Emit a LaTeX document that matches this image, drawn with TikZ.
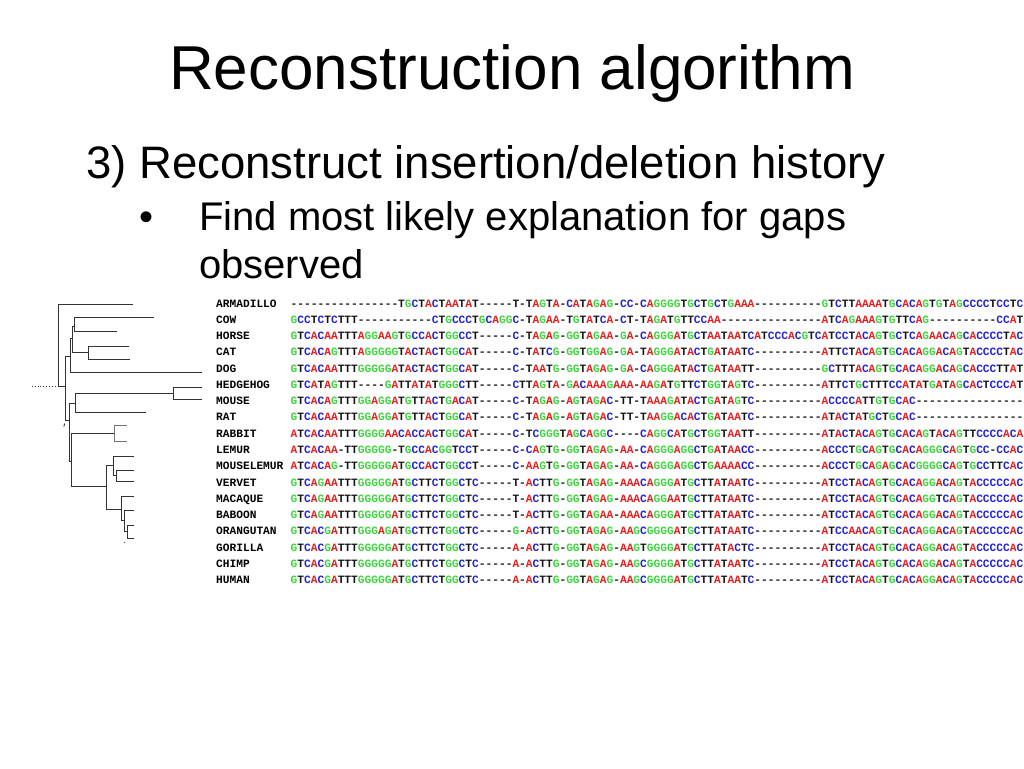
\documentclass[tikz,border=0pt]{standalone}
\usepackage{fontspec}
\setmainfont{Liberation Sans}
\newfontfamily\seqfont{Liberation Mono}
\usepackage{tikz}

\newcommand\nuc[1]{\if#1A\textcolor{nucA}{A}\else\if#1C\textcolor{nucC}{C}\else\if#1G\textcolor{nucG}{G}\else\textcolor{nucT}{#1}\fi\fi\fi}
\newcommand\colseq[1]{\colseqstep#1\relax}
\newcommand\colseqstep[1]{\ifx#1\relax\else\nuc{#1}\expandafter\colseqstep\fi}

\begin{document}
\begin{tikzpicture}[x=1pt,y=-1pt,
  branch/.style={draw=black!80,line width=0.9pt},
  taxon/.style={anchor=base west,inner sep=0pt,font=\seqfont\bfseries\fontsize{11.2}{11.2}\selectfont}]
\definecolor{nucA}{RGB}{230,30,30}
\definecolor{nucC}{RGB}{35,35,215}
\definecolor{nucG}{RGB}{60,215,60}
\definecolor{nucT}{RGB}{20,20,20}
\fill[white] (0,0) rectangle (1024,768);
\useasboundingbox (0,0) rectangle (1024,768);
\node[anchor=base,inner sep=0pt,font=\fontsize{62}{62}\selectfont] (title) at (512,89) {Reconstruction algorithm};
\node[anchor=base west,inner sep=0pt,font=\fontsize{45.5}{45.5}\selectfont] (heading) at (86,178) {3) Reconstruct insertion/deletion history};
\node[anchor=base,inner sep=0pt,font=\fontsize{40}{40}\selectfont] (bullet) at (146,230) {•};
\node[anchor=base west,inner sep=0pt,font=\fontsize{40}{40}\selectfont] (find) at (199,230) {Find most likely explanation for gaps};
\node[anchor=base west,inner sep=0pt,font=\fontsize{40}{40}\selectfont] (observed) at (199,278) {observed};
\draw[branch,dotted] (31.7,386.7) -- (58.3,386.7);
\draw[branch] (133.3,304.3) -| (58.3,386.7) -- (65,386.7);
\draw[branch] (154.3,317.7) -| (74.3,331) -- (116.7,331);
\draw[branch] (74.3,326.7) -| (72.7,352.3) -- (88.3,352.3);
\draw[branch] (129,346.7) -| (88.3,359) -- (130,359);
\draw[branch] (72.7,338) -| (70,372.3) -- (201.7,372.3);
\draw[branch] (70,356.7) -| (65,420) -- (69,420);
\draw[branch] (75.7,403.3) -| (69,461.7) -- (71.7,461.7);
\draw[branch] (145.7,412.7) -| (75.7,393.3) -- (173.3,393.3);
\draw[branch] (201.7,387.3) -| (173.3,399.3) -- (201.7,399.3);
\draw[branch] (114.3,433.3) -| (71.7,486.7) -- (106.7,486.7);
\draw[branch,draw=black!55] (126.7,425) -| (114.3,441.7) -- (126.7,441.7);
\draw[branch] (113.3,465) -| (106.7,509) -- (121.7,509);
\draw[branch] (134,456.7) -| (113.3,475) -- (116.7,475);
\draw[branch] (134,470) -| (116.7,481.7) -- (134,481.7);
\draw[branch] (134,496) -| (121.7,520) -- (124,520);
\draw[branch] (134,510) -| (124,531.7) -- (127.7,531.7);
\draw[branch] (134,525) -| (127.7,538.3) -- (134,538.3);
\draw[branch] (64.6,423.5) -- (63.9,426.5);
\fill[black!70] (124.3,542.5) circle (0.6);
\foreach \taxon/\dna [count=\i] in {
  ARMADILLO/----------------TGCTACTAATAT-----T-TAGTA-CATAGAG-CC-CAGGGGTGCTGCTGAAA----------GTCTTAAAATGCACAGTGTAGCCCCTCCTC,
  COW/GCCTCTCTTT-----------CTGCCCTGCAGGC-TAGAA-TGTATCA-CT-TAGATGTTCCAA---------------ATCAGAAAGTGTTCAG----------CCAT,
  HORSE/GTCACAATTTAGGAAGTGCCACTGGCCT-----C-TAGAG-GGTAGAA-GA-CAGGGATGCTAATAATCATCCCACGTCATCCTACAGTGCTCAGAACAGCACCCCTAC,
  CAT/GTCACAGTTTAGGGGGTACTACTGGCAT-----C-TATCG-GGTGGAG-GA-TAGGGATACTGATAATC----------ATTCTACAGTGCACAGGACAGTACCCCTAC,
  DOG/GTCACAATTTGGGGGATACTACTGGCAT-----C-TAATG-GGTAGAG-GA-CAGGGATACTGATAATT----------GCTTTACAGTGCACAGGACAGCACCCTTAT,
  HEDGEHOG/GTCATAGTTT----GATTATATGGGCTT-----CTTAGTA-GACAAAGAAA-AAGATGTTCTGGTAGTC----------ATTCTGCTTTCCATATGATAGCACTCCCAT,
  MOUSE/GTCACAGTTTGGAGGATGTTACTGACAT-----C-TAGAG-AGTAGAC-TT-TAAAGATACTGATAGTC----------ACCCCATTGTGCAC----------------,
  RAT/GTCACAATTTGGAGGATGTTACTGGCAT-----C-TAGAG-AGTAGAC-TT-TAAGGACACTGATAATC----------ATACTATGCTGCAC----------------,
  RABBIT/ATCACAATTTGGGGAACACCACTGGCAT-----C-TCGGGTAGCAGGC----CAGGCATGCTGGTAATT----------ATACTACAGTGCACAGTACAGTTCCCCACA,
  LEMUR/ATCACAA-TTGGGGG-TGCCACGGTCCT-----C-CAGTG-GGTAGAG-AA-CAGGGAGGCTGATAACC----------ACCCTGCAGTGCACAGGGCAGTGCC-CCAC,
  MOUSELEMUR/ATCACAG-TTGGGGGATGCCACTGGCCT-----C-AAGTG-GGTAGAG-AA-CAGGGAGGCTGAAAACC----------ACCCTGCAGAGCACGGGGCAGTGCCTTCAC,
  VERVET/GTCAGAATTTGGGGGATGCTTCTGGCTC-----T-ACTTG-GGTAGAG-AAACAGGGATGCTTATAATC----------ATCCTACAGTGCACAGGACAGTACCCCCAC,
  MACAQUE/GTCAGAATTTGGGGGATGCTTCTGGCTC-----T-ACTTG-GGTAGAG-AAACAGGAATGCTTATAATC----------ATCCTACAGTGCACAGGTCAGTACCCCCAC,
  BABOON/GTCAGAATTTGGGGGATGCTTCTGGCTC-----T-ACTTG-GGTAGAA-AAACAGGGATGCTTATAATC----------ATCCTACAGTGCACAGGACAGTACCCCCAC,
  ORANGUTAN/GTCACGATTTGGGAGATGCTTCTGGCTC-----G-ACTTG-GGTAGAG-AAGCGGGGATGCTTATAATC----------ATCCAACAGTGCACAGGACAGTACCCCCAC,
  GORILLA/GTCACGATTTGGGGGATGCTTCTGGCTC-----A-ACTTG-GGTAGAG-AAGTGGGGATGCTTATACTC----------ATCCTACAGTGCACAGGACAGTACCCCCAC,
  CHIMP/GTCACGATTTGGGGGATGCTTCTGGCTC-----A-ACTTG-GGTAGAG-AAGCGGGGATGCTTATAATC----------ATCCTACAGTGCACAGGACAGTACCCCCAC,
  HUMAN/GTCACGATTTGGGGGATGCTTCTGGCTC-----A-ACTTG-GGTAGAG-AAGCGGGGATGCTTATAATC----------ATCCTACAGTGCACAGGACAGTACCCCCAC}
{
  \node[taxon] (lab\i) at (216,{290.72+16.28*\i}) {\taxon};
  \node[taxon] (seq\i) at (290.5,{290.72+16.28*\i}) {\expandafter\colseq\expandafter{\dna}};
}
\end{tikzpicture}
\end{document}
